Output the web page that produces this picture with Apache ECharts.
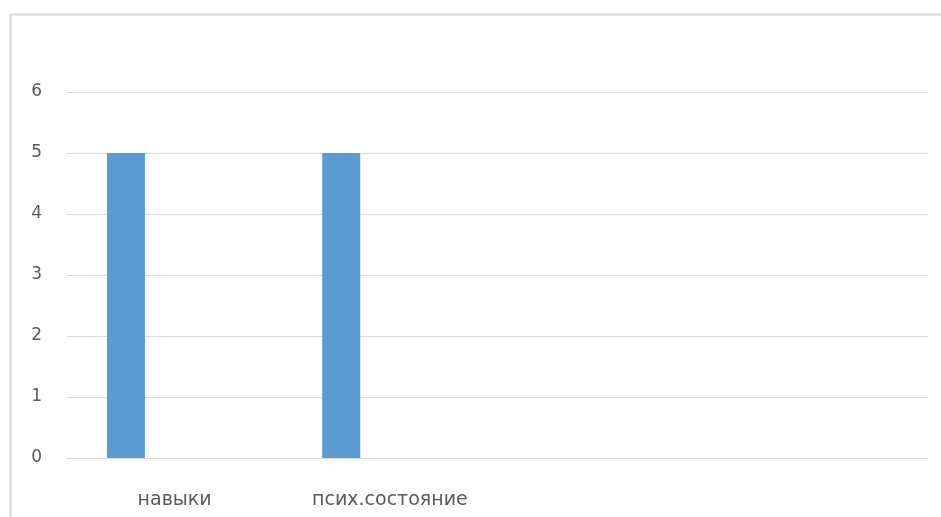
<!DOCTYPE html>
<html>
<head>
<meta charset="utf-8">
<script src="https://cdn.jsdelivr.net/npm/echarts@6/dist/echarts.min.js"></script>
<style>
  html, body { margin: 0; padding: 0; background: #ffffff; }
  #chart { width: 941px; height: 517px; }
</style>
</head>
<body>
<div id="chart"></div>
<script>
// Categories along the x axis (the last two slots are unlabeled)
const categories = ['навыки', 'псих.состояние', '', ''];
// Scores for the first series; the other two series hold no values
const series1 = [5, 5, null, null];
const series2 = [null, null, null, null];
const series3 = [null, null, null, null];
// Value axis range
const yMin = 0, yMax = 6, yStep = 1;

const textColor = '#595959';
const lineColor = '#d9d9d9';
const barColor = '#5b9bd5';
const fontFamily = '"DejaVu Sans", sans-serif';

const chart = echarts.init(document.getElementById('chart'), null, { renderer: 'canvas' });

const barStyle = { color: barColor };

chart.setOption({
  animation: false,
  backgroundColor: '#ffffff',
  graphic: [{
    type: 'rect',
    left: 8, top: 12,
    shape: { width: 1000, height: 600 },
    style: { fill: 'none', stroke: lineColor, lineWidth: 2 },
    silent: true,
    z: -1
  }],
  grid: { left: 67, right: 13, top: 92, bottom: 59, containLabel: false },
  xAxis: {
    type: 'category',
    data: categories,
    axisLine: { show: true, lineStyle: { color: lineColor, width: 1 } },
    axisTick: { show: false },
    axisLabel: {
      color: textColor, fontFamily: fontFamily, fontSize: 19,
      margin: 33, interval: 0
    },
    splitLine: { show: false }
  },
  yAxis: {
    type: 'value',
    min: yMin, max: yMax, interval: yStep,
    axisLine: { show: false },
    axisTick: { show: false },
    axisLabel: { color: textColor, fontFamily: fontFamily, fontSize: 17, margin: 25 },
    splitLine: { show: true, lineStyle: { color: lineColor, width: 1 } }
  },
  series: [
    { name: 'Ряд 1', type: 'bar', data: series1, barWidth: 38, barGap: '28%', itemStyle: barStyle },
    { name: 'Ряд 2', type: 'bar', data: series2, barWidth: 38, barGap: '28%' },
    { name: 'Ряд 3', type: 'bar', data: series3, barWidth: 38, barGap: '28%' }
  ]
});
</script>
</body>
</html>
